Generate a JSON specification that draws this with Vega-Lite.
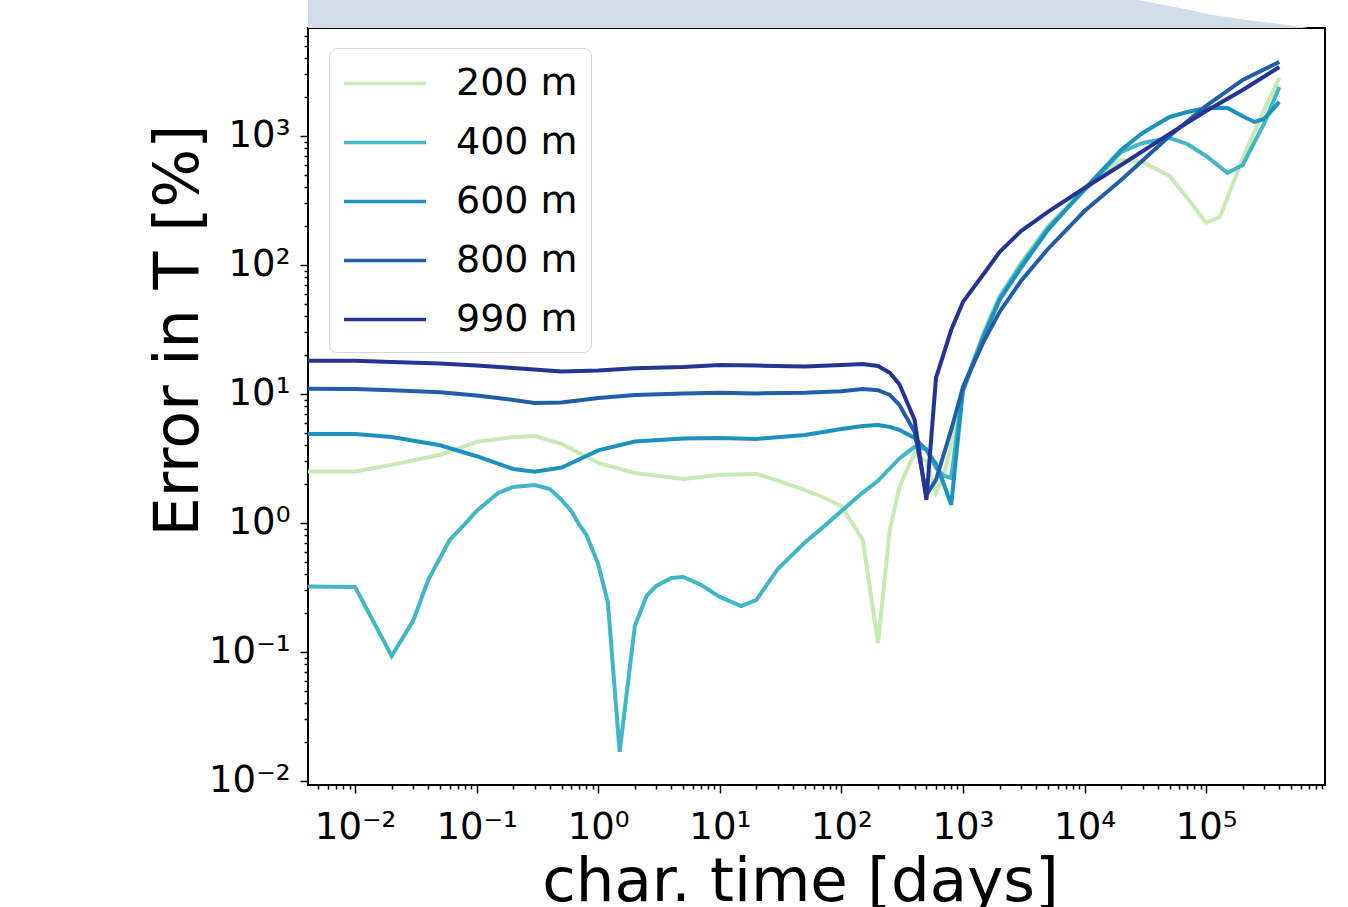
{
  "$schema": "https://vega.github.io/schema/vega-lite/v6.json",
  "width": 1017,
  "height": 757,
  "autosize": {"type": "none"},
  "padding": {"left": 308, "top": 28, "right": 23, "bottom": 122},
  "background": "white",
  "config": {"view": {"stroke": "black", "strokeWidth": 2}, "font": "DejaVu Sans"},
  "datasets": {
    "band": [
      {"t": 0.0041, "top": 12000, "bottom": 6870},
      {"t": 27500, "top": 11330, "bottom": 6870},
      {"t": 60900, "top": 9820, "bottom": 6870},
      {"t": 113700, "top": 8670, "bottom": 6870},
      {"t": 216700, "top": 7930, "bottom": 6870},
      {"t": 404600, "top": 7390, "bottom": 6870},
      {"t": 674500, "top": 6900, "bottom": 6870}
    ],
    "lines": [
      {"t": 0.004, "e": 2.51, "d": "200 m"},
      {"t": 0.01, "e": 2.51, "d": "200 m"},
      {"t": 0.02, "e": 2.82, "d": "200 m"},
      {"t": 0.05, "e": 3.37, "d": "200 m"},
      {"t": 0.1, "e": 4.25, "d": "200 m"},
      {"t": 0.2, "e": 4.64, "d": "200 m"},
      {"t": 0.3, "e": 4.73, "d": "200 m"},
      {"t": 0.5, "e": 4.1, "d": "200 m"},
      {"t": 1, "e": 2.92, "d": "200 m"},
      {"t": 2, "e": 2.44, "d": "200 m"},
      {"t": 5, "e": 2.19, "d": "200 m"},
      {"t": 10, "e": 2.36, "d": "200 m"},
      {"t": 20, "e": 2.4, "d": "200 m"},
      {"t": 30, "e": 2.13, "d": "200 m"},
      {"t": 50, "e": 1.8, "d": "200 m"},
      {"t": 70, "e": 1.59, "d": "200 m"},
      {"t": 100, "e": 1.35, "d": "200 m"},
      {"t": 150, "e": 0.74, "d": "200 m"},
      {"t": 200, "e": 0.117, "d": "200 m"},
      {"t": 250, "e": 0.88, "d": "200 m"},
      {"t": 300, "e": 1.9, "d": "200 m"},
      {"t": 400, "e": 3.49, "d": "200 m"},
      {"t": 500, "e": 2.97, "d": "200 m"},
      {"t": 600, "e": 1.71, "d": "200 m"},
      {"t": 700, "e": 2.36, "d": "200 m"},
      {"t": 800, "e": 4.0, "d": "200 m"},
      {"t": 1000, "e": 10.4, "d": "200 m"},
      {"t": 1500, "e": 31.3, "d": "200 m"},
      {"t": 2000, "e": 57.5, "d": "200 m"},
      {"t": 3000, "e": 104, "d": "200 m"},
      {"t": 5000, "e": 201, "d": "200 m"},
      {"t": 10000, "e": 395, "d": "200 m"},
      {"t": 20000, "e": 652, "d": "200 m"},
      {"t": 30000, "e": 629, "d": "200 m"},
      {"t": 50000, "e": 490, "d": "200 m"},
      {"t": 70000, "e": 331, "d": "200 m"},
      {"t": 100000, "e": 212, "d": "200 m"},
      {"t": 130000, "e": 236, "d": "200 m"},
      {"t": 200000, "e": 669, "d": "200 m"},
      {"t": 300000, "e": 1595, "d": "200 m"},
      {"t": 400000, "e": 2818, "d": "200 m"},

      {"t": 0.004, "e": 0.321, "d": "400 m"},
      {"t": 0.01, "e": 0.319, "d": "400 m"},
      {"t": 0.02, "e": 0.0931, "d": "400 m"},
      {"t": 0.03, "e": 0.174, "d": "400 m"},
      {"t": 0.04, "e": 0.362, "d": "400 m"},
      {"t": 0.06, "e": 0.738, "d": "400 m"},
      {"t": 0.08, "e": 0.98, "d": "400 m"},
      {"t": 0.1, "e": 1.24, "d": "400 m"},
      {"t": 0.15, "e": 1.71, "d": "400 m"},
      {"t": 0.2, "e": 1.9, "d": "400 m"},
      {"t": 0.3, "e": 1.97, "d": "400 m"},
      {"t": 0.4, "e": 1.83, "d": "400 m"},
      {"t": 0.5, "e": 1.51, "d": "400 m"},
      {"t": 0.6, "e": 1.24, "d": "400 m"},
      {"t": 0.7, "e": 0.965, "d": "400 m"},
      {"t": 0.8, "e": 0.807, "d": "400 m"},
      {"t": 1, "e": 0.48, "d": "400 m"},
      {"t": 1.2, "e": 0.242, "d": "400 m"},
      {"t": 1.5, "e": 0.0168, "d": "400 m"},
      {"t": 2, "e": 0.159, "d": "400 m"},
      {"t": 2.5, "e": 0.272, "d": "400 m"},
      {"t": 3, "e": 0.325, "d": "400 m"},
      {"t": 4, "e": 0.375, "d": "400 m"},
      {"t": 5, "e": 0.381, "d": "400 m"},
      {"t": 7, "e": 0.331, "d": "400 m"},
      {"t": 10, "e": 0.267, "d": "400 m"},
      {"t": 15, "e": 0.227, "d": "400 m"},
      {"t": 20, "e": 0.253, "d": "400 m"},
      {"t": 30, "e": 0.44, "d": "400 m"},
      {"t": 50, "e": 0.705, "d": "400 m"},
      {"t": 70, "e": 0.92, "d": "400 m"},
      {"t": 100, "e": 1.24, "d": "400 m"},
      {"t": 150, "e": 1.72, "d": "400 m"},
      {"t": 200, "e": 2.12, "d": "400 m"},
      {"t": 300, "e": 3.16, "d": "400 m"},
      {"t": 400, "e": 3.88, "d": "400 m"},
      {"t": 500, "e": 3.74, "d": "400 m"},
      {"t": 600, "e": 2.67, "d": "400 m"},
      {"t": 700, "e": 2.31, "d": "400 m"},
      {"t": 800, "e": 2.23, "d": "400 m"},
      {"t": 1000, "e": 11.1, "d": "400 m"},
      {"t": 1500, "e": 29.7, "d": "400 m"},
      {"t": 2000, "e": 55.5, "d": "400 m"},
      {"t": 3000, "e": 100, "d": "400 m"},
      {"t": 5000, "e": 194, "d": "400 m"},
      {"t": 10000, "e": 380, "d": "400 m"},
      {"t": 20000, "e": 751, "d": "400 m"},
      {"t": 30000, "e": 883, "d": "400 m"},
      {"t": 50000, "e": 965, "d": "400 m"},
      {"t": 70000, "e": 867, "d": "400 m"},
      {"t": 100000, "e": 700, "d": "400 m"},
      {"t": 150000, "e": 517, "d": "400 m"},
      {"t": 200000, "e": 596, "d": "400 m"},
      {"t": 300000, "e": 1250, "d": "400 m"},
      {"t": 400000, "e": 2399, "d": "400 m"},

      {"t": 0.004, "e": 4.9, "d": "600 m"},
      {"t": 0.01, "e": 4.9, "d": "600 m"},
      {"t": 0.02, "e": 4.64, "d": "600 m"},
      {"t": 0.05, "e": 4.0, "d": "600 m"},
      {"t": 0.1, "e": 3.29, "d": "600 m"},
      {"t": 0.2, "e": 2.62, "d": "600 m"},
      {"t": 0.3, "e": 2.49, "d": "600 m"},
      {"t": 0.5, "e": 2.69, "d": "600 m"},
      {"t": 0.7, "e": 3.12, "d": "600 m"},
      {"t": 1, "e": 3.65, "d": "600 m"},
      {"t": 2, "e": 4.28, "d": "600 m"},
      {"t": 5, "e": 4.52, "d": "600 m"},
      {"t": 10, "e": 4.56, "d": "600 m"},
      {"t": 20, "e": 4.48, "d": "600 m"},
      {"t": 50, "e": 4.81, "d": "600 m"},
      {"t": 100, "e": 5.35, "d": "600 m"},
      {"t": 150, "e": 5.65, "d": "600 m"},
      {"t": 200, "e": 5.75, "d": "600 m"},
      {"t": 250, "e": 5.54, "d": "600 m"},
      {"t": 300, "e": 5.26, "d": "600 m"},
      {"t": 400, "e": 4.56, "d": "600 m"},
      {"t": 500, "e": 3.68, "d": "600 m"},
      {"t": 600, "e": 2.87, "d": "600 m"},
      {"t": 700, "e": 1.97, "d": "600 m"},
      {"t": 800, "e": 1.38, "d": "600 m"},
      {"t": 1000, "e": 10.7, "d": "600 m"},
      {"t": 1500, "e": 28.7, "d": "600 m"},
      {"t": 2000, "e": 53.5, "d": "600 m"},
      {"t": 3000, "e": 94.8, "d": "600 m"},
      {"t": 5000, "e": 187, "d": "600 m"},
      {"t": 10000, "e": 388, "d": "600 m"},
      {"t": 20000, "e": 779, "d": "600 m"},
      {"t": 30000, "e": 1055, "d": "600 m"},
      {"t": 50000, "e": 1404, "d": "600 m"},
      {"t": 70000, "e": 1535, "d": "600 m"},
      {"t": 100000, "e": 1648, "d": "600 m"},
      {"t": 150000, "e": 1650, "d": "600 m"},
      {"t": 200000, "e": 1420, "d": "600 m"},
      {"t": 250000, "e": 1284, "d": "600 m"},
      {"t": 300000, "e": 1355, "d": "600 m"},
      {"t": 400000, "e": 1836, "d": "600 m"},

      {"t": 0.004, "e": 11.0, "d": "800 m"},
      {"t": 0.01, "e": 10.9, "d": "800 m"},
      {"t": 0.02, "e": 10.7, "d": "800 m"},
      {"t": 0.05, "e": 10.3, "d": "800 m"},
      {"t": 0.1, "e": 9.73, "d": "800 m"},
      {"t": 0.2, "e": 8.98, "d": "800 m"},
      {"t": 0.3, "e": 8.51, "d": "800 m"},
      {"t": 0.5, "e": 8.6, "d": "800 m"},
      {"t": 1, "e": 9.31, "d": "800 m"},
      {"t": 2, "e": 9.82, "d": "800 m"},
      {"t": 5, "e": 10.1, "d": "800 m"},
      {"t": 10, "e": 10.2, "d": "800 m"},
      {"t": 20, "e": 10.1, "d": "800 m"},
      {"t": 50, "e": 10.2, "d": "800 m"},
      {"t": 100, "e": 10.5, "d": "800 m"},
      {"t": 150, "e": 10.9, "d": "800 m"},
      {"t": 200, "e": 10.7, "d": "800 m"},
      {"t": 250, "e": 9.83, "d": "800 m"},
      {"t": 300, "e": 8.22, "d": "800 m"},
      {"t": 400, "e": 5.08, "d": "800 m"},
      {"t": 500, "e": 1.65, "d": "800 m"},
      {"t": 600, "e": 2.16, "d": "800 m"},
      {"t": 800, "e": 5.26, "d": "800 m"},
      {"t": 1000, "e": 11.3, "d": "800 m"},
      {"t": 1500, "e": 26.2, "d": "800 m"},
      {"t": 2000, "e": 43.2, "d": "800 m"},
      {"t": 3000, "e": 75.2, "d": "800 m"},
      {"t": 5000, "e": 133, "d": "800 m"},
      {"t": 10000, "e": 262, "d": "800 m"},
      {"t": 20000, "e": 456, "d": "800 m"},
      {"t": 50000, "e": 1000, "d": "800 m"},
      {"t": 100000, "e": 1709, "d": "800 m"},
      {"t": 200000, "e": 2717, "d": "800 m"},
      {"t": 400000, "e": 3748, "d": "800 m"},

      {"t": 0.004, "e": 18.1, "d": "990 m"},
      {"t": 0.01, "e": 18.05, "d": "990 m"},
      {"t": 0.02, "e": 17.7, "d": "990 m"},
      {"t": 0.05, "e": 17.2, "d": "990 m"},
      {"t": 0.1, "e": 16.6, "d": "990 m"},
      {"t": 0.2, "e": 15.9, "d": "990 m"},
      {"t": 0.5, "e": 14.9, "d": "990 m"},
      {"t": 1, "e": 15.2, "d": "990 m"},
      {"t": 2, "e": 15.8, "d": "990 m"},
      {"t": 5, "e": 16.2, "d": "990 m"},
      {"t": 10, "e": 16.8, "d": "990 m"},
      {"t": 20, "e": 16.6, "d": "990 m"},
      {"t": 50, "e": 16.3, "d": "990 m"},
      {"t": 100, "e": 16.8, "d": "990 m"},
      {"t": 150, "e": 17.1, "d": "990 m"},
      {"t": 200, "e": 16.5, "d": "990 m"},
      {"t": 250, "e": 14.6, "d": "990 m"},
      {"t": 300, "e": 11.9, "d": "990 m"},
      {"t": 400, "e": 6.3, "d": "990 m"},
      {"t": 500, "e": 1.51, "d": "990 m"},
      {"t": 600, "e": 13.3, "d": "990 m"},
      {"t": 800, "e": 31.3, "d": "990 m"},
      {"t": 1000, "e": 51.7, "d": "990 m"},
      {"t": 1500, "e": 86.7, "d": "990 m"},
      {"t": 2000, "e": 126, "d": "990 m"},
      {"t": 3000, "e": 183, "d": "990 m"},
      {"t": 5000, "e": 258, "d": "990 m"},
      {"t": 10000, "e": 395, "d": "990 m"},
      {"t": 20000, "e": 596, "d": "990 m"},
      {"t": 50000, "e": 1037, "d": "990 m"},
      {"t": 100000, "e": 1563, "d": "990 m"},
      {"t": 200000, "e": 2274, "d": "990 m"},
      {"t": 400000, "e": 3427, "d": "990 m"}
    ]
  },
  "layer": [
    {
      "data": {"name": "lines"},
      "mark": {"type": "line", "strokeWidth": 4, "clip": true},
      "encoding": {
        "x": {
          "field": "t", "type": "quantitative",
          "scale": {"type": "log", "domain": [0.0041, 950000], "nice": false},
          "axis": {
            "title": "char. time [days]",
            "titleFont": "DejaVu Sans", "titleFontSize": 61, "titleFontWeight": "normal", "titleColor": "black",
            "titleX": 492, "titleY": 115, "titleBaseline": "alphabetic", "titleAlign": "center", "titleAnchor": "middle",
            "values": [0.005,0.006,0.007,0.008,0.009,0.01,0.02,0.03,0.04,0.05,0.06,0.07,0.08,0.09,0.1,0.2,0.3,0.4,0.5,0.6,0.7,0.8,0.9,1,2,3,4,5,6,7,8,9,10,20,30,40,50,60,70,80,90,100,200,300,400,500,600,700,800,900,1000,2000,3000,4000,5000,6000,7000,8000,9000,10000,20000,30000,40000,50000,60000,70000,80000,90000,100000,200000,300000,400000,500000,600000,700000,800000,900000],
            "labelExpr": "abs(log(datum.value)/LN10 - round(log(datum.value)/LN10)) < 0.001 ? '10' + {'-2':'⁻²','-1':'⁻¹','0':'⁰','1':'¹','2':'²','3':'³','4':'⁴','5':'⁵'}[toString(round(log(datum.value)/LN10))] : ''",
            "labelFont": "DejaVu Sans", "labelFontSize": 37, "labelColor": "black",
            "labelBaseline": "alphabetic", "labelPadding": 45, "labelOverlap": false, "labelFlush": false, "labelBound": false,
            "tickColor": "black", "tickWidth": 1.5,
            "tickSize": {"condition": {"test": "abs(log(datum.value)/LN10 - round(log(datum.value)/LN10)) < 0.001", "value": 8}, "value": 4},
            "domain": false, "grid": false
          }
        },
        "y": {
          "field": "e", "type": "quantitative",
          "scale": {"type": "log", "domain": [0.0093, 6870], "nice": false},
          "axis": {
            "title": "Error in T [%]",
            "titleFont": "DejaVu Sans", "titleFontSize": 62, "titleFontWeight": "normal", "titleColor": "black",
            "titleX": -111, "titleY": 302, "titleAngle": -90, "titleBaseline": "alphabetic", "titleAlign": "center", "titleAnchor": "middle",
            "values": [0.01,0.02,0.03,0.04,0.05,0.06,0.07,0.08,0.09,0.1,0.2,0.3,0.4,0.5,0.6,0.7,0.8,0.9,1,2,3,4,5,6,7,8,9,10,20,30,40,50,60,70,80,90,100,200,300,400,500,600,700,800,900,1000,2000,3000,4000,5000,6000],
            "labelExpr": "abs(log(datum.value)/LN10 - round(log(datum.value)/LN10)) < 0.001 ? '10' + {'-2':'⁻²','-1':'⁻¹','0':'⁰','1':'¹','2':'²','3':'³','4':'⁴','5':'⁵'}[toString(round(log(datum.value)/LN10))] : ''",
            "labelFont": "DejaVu Sans", "labelFontSize": 37, "labelColor": "black",
            "labelPadding": 10, "labelOverlap": false, "labelFlush": false, "labelBound": false,
            "tickColor": "black", "tickWidth": 1.5,
            "tickSize": {"condition": {"test": "abs(log(datum.value)/LN10 - round(log(datum.value)/LN10)) < 0.001", "value": 8}, "value": 4},
            "domain": false, "grid": false
          }
        },
        "color": {
          "field": "d", "type": "nominal",
          "scale": {"domain": ["200 m", "400 m", "600 m", "800 m", "990 m"], "range": ["#c7e9b4", "#41b6c4", "#1d91c0", "#225ea8", "#253494"]},
          "legend": {
            "title": null, "orient": "none", "legendX": 21, "legendY": 20,
            "symbolType": "M-1,0H3", "symbolSize": 1681, "symbolStrokeWidth": 3.5, "symbolFillColor": "transparent",
            "labelFont": "DejaVu Sans", "labelFontSize": 38, "labelColor": "black", "labelOffset": 69,
            "rowPadding": 17, "padding": 13,
            "fillColor": "rgba(255,255,255,0.85)", "strokeColor": "#d5d5d5", "cornerRadius": 8
          }
        }
      }
    },
    {
      "data": {"name": "band"},
      "mark": {"type": "area", "color": "#d1dde9", "opacity": 1, "clip": false},
      "encoding": {
        "x": {"field": "t", "type": "quantitative"},
        "y": {"field": "top", "type": "quantitative"},
        "y2": {"field": "bottom"}
      }
    }
  ]
}
